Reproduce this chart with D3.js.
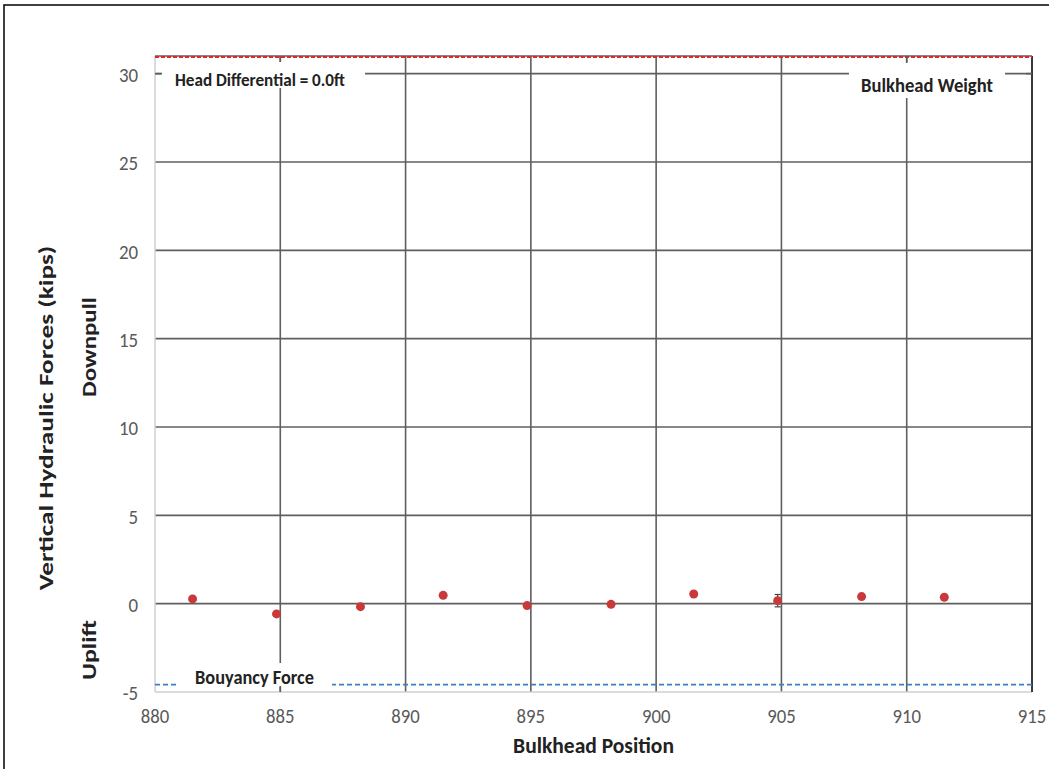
<!DOCTYPE html>
<html><head><meta charset="utf-8">
<script src="https://cdn.jsdelivr.net/npm/d3@7"></script>
<style>
body{margin:0;background:#fff;}
svg{display:block;font-family:Carlito,Calibri,Lato,"Open Sans","Noto Sans",sans-serif;}
</style></head>
<body><svg id="c" width="1049" height="769"></svg>
<script>
// Data
const positions = [881.5, 884.85, 888.2, 891.5, 894.85, 898.2, 901.5, 904.85, 908.2, 911.5];
const forces    = [0.27, -0.58, -0.17, 0.47, -0.11, -0.04, 0.55, 0.17, 0.40, 0.36];
const errors    = [0.08, 0.08, 0.08, 0.08, 0.08, 0.08, 0.08, 0.35, 0.08, 0.08];
const bulkheadWeight = 30.95;
const buoyancyForce = -4.58;
const xTicks = [880, 885, 890, 895, 900, 905, 910, 915];
const yTicks = [-5, 0, 5, 10, 15, 20, 25, 30];
const headDiffLabel = "Head Differential = 0.0ft";

const svg = d3.select("#c");
svg.append("rect").attr("x",4).attr("y",5).attr("width",1060).attr("height",780)
  .attr("fill","none").attr("stroke","#111").attr("stroke-width",1.6);

const L=155, R=1032, T=56, B=692;
const x = d3.scaleLinear().domain([880,915]).range([L,R]);
const y = d3.scaleLinear().domain([-5,31]).range([B,T]);
const grid = "#5f5f5f";

svg.append("g").selectAll("line").data(xTicks.filter(d=>d>880)).join("line")
  .attr("x1",d=>x(d)).attr("x2",d=>x(d)).attr("y1",T).attr("y2",B)
  .attr("stroke",grid).attr("stroke-width",1.6);
svg.append("g").selectAll("line").data(yTicks.filter(d=>d>-5)).join("line")
  .attr("x1",L).attr("x2",R).attr("y1",d=>y(d)).attr("y2",d=>y(d))
  .attr("stroke",grid).attr("stroke-width",1.6);
svg.append("line").attr("x1",L).attr("x2",L).attr("y1",T).attr("y2",B).attr("stroke","#d0d0d0").attr("stroke-width",1.5);
svg.append("line").attr("x1",L).attr("x2",R).attr("y1",B).attr("y2",B).attr("stroke","#d0d0d0").attr("stroke-width",1.5);
svg.append("line").attr("x1",L).attr("x2",R).attr("y1",T).attr("y2",T).attr("stroke",grid).attr("stroke-width",1.6);
svg.append("line").attr("x1",R).attr("x2",R).attr("y1",T).attr("y2",B).attr("stroke","#333").attr("stroke-width",1.8);

svg.append("line").attr("x1",L).attr("x2",R).attr("y1",y(bulkheadWeight)).attr("y2",y(bulkheadWeight))
  .attr("stroke","#e8232b").attr("stroke-width",2).attr("stroke-dasharray","4,2");
svg.append("line").attr("x1",L).attr("x2",R).attr("y1",y(buoyancyForce)).attr("y2",y(buoyancyForce))
  .attr("stroke","#3f7fc4").attr("stroke-width",1.8).attr("stroke-dasharray","5,3");

function fitText(cx, cy, rot, text, size, targetLen, sy, opts={}){
  const g = svg.append("g");
  const t = g.append("text").attr("x",0).attr("y",0)
    .attr("text-anchor",opts.anchor||"middle").attr("dominant-baseline","central")
    .attr("font-size",size).attr("font-weight",opts.weight||"bold").attr("fill",opts.fill||"#222").text(text);
  const w = t.node().getComputedTextLength();
  const sx = targetLen ? targetLen / w : 1;
  g.attr("transform",`translate(${cx},${cy}) rotate(${rot}) scale(${sx},${sy})`);
  return g;
}
function labelBox(x0,y0,w,h){
  svg.append("rect").attr("x",x0).attr("y",y0).attr("width",w).attr("height",h).attr("fill","#fff");
}
labelBox(162,62,203,26);
labelBox(849,63,156,35);
labelBox(178,663,154,24);
fitText(260,80,0,headDiffLabel,15,170,1.2);
fitText(927,85.5,0,"Bulkhead Weight",16,132,1.2);
fitText(254.5,677,0,"Bouyancy Force",16,119,1.2);

// minor ticks
svg.append("line").attr("x1",L).attr("x2",L+6).attr("y1",y(30)).attr("y2",y(30)).attr("stroke",grid).attr("stroke-width",1.6);
svg.append("line").attr("x1",x(885)).attr("x2",x(885)).attr("y1",T).attr("y2",T+6).attr("stroke",grid).attr("stroke-width",1.6);
svg.append("line").attr("x1",x(910)).attr("x2",x(910)).attr("y1",T).attr("y2",T+6).attr("stroke",grid).attr("stroke-width",1.6);
svg.append("line").attr("x1",x(885)).attr("x2",x(885)).attr("y1",B-6).attr("y2",B).attr("stroke",grid).attr("stroke-width",1.6);
svg.append("line").attr("x1",R-6).attr("x2",R).attr("y1",y(30)).attr("y2",y(30)).attr("stroke",grid).attr("stroke-width",1.6);

// tick labels via scales
xTicks.forEach(d=>{
  fitText(x(d),716,0,String(d),17,28.5,1.15,{weight:"normal",fill:"#595959"});
});
yTicks.forEach(d=>{
  const g = svg.append("g").attr("transform",`translate(138,${y(d)+1}) scale(1.02,1.15)`);
  g.append("text").attr("text-anchor","end").attr("dominant-baseline","central")
    .attr("font-size",18.5).attr("fill","#595959").text(String(d));
});

// error bars
const eb = svg.append("g");
positions.forEach((p,i)=>{
  const cx=x(p), y1=y(forces[i]+errors[i]), y2=y(forces[i]-errors[i]);
  eb.append("line").attr("x1",cx).attr("x2",cx).attr("y1",y1).attr("y2",y2).attr("stroke","#444").attr("stroke-width",1.2);
  eb.append("line").attr("x1",cx-3).attr("x2",cx+3).attr("y1",y1).attr("y2",y1).attr("stroke","#444").attr("stroke-width",1.2);
  eb.append("line").attr("x1",cx-3).attr("x2",cx+3).attr("y1",y2).attr("y2",y2).attr("stroke","#444").attr("stroke-width",1.2);
});
svg.append("g").selectAll("circle").data(positions).join("circle")
  .attr("cx",d=>x(d)).attr("cy",(d,i)=>y(forces[i])).attr("r",4.5).attr("fill","#c9393b");

// axis titles
fitText(593.5,745,0,"Bulkhead Position",19,161,1.2);
fitText(46,418,-90,"Vertical Hydraulic Forces (kips)",21,345,1.0);
fitText(89,347,-90,"Downpull",21,100,1.0);
fitText(89,650,-90,"Uplift",21,60,1.0);
</script></body></html>
